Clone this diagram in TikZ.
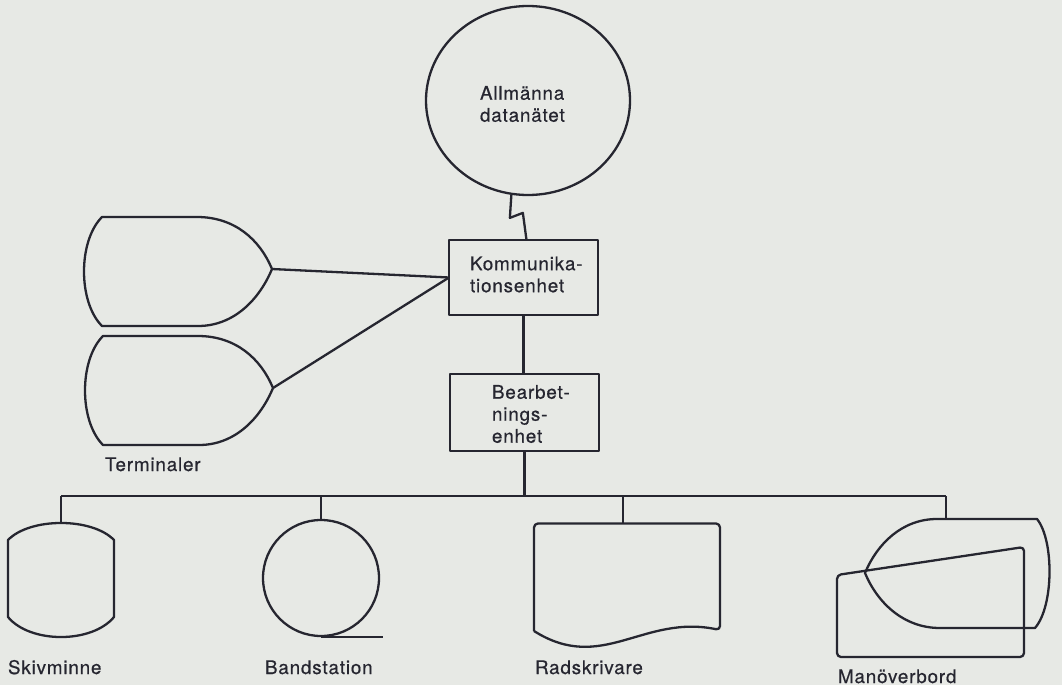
\documentclass[tikz,border=0pt]{standalone}
\usepackage{fontspec}
\setmainfont{TeX Gyre Heros}[LetterSpace=4.5,FakeBold=0.6]
\usetikzlibrary{shapes.geometric}
\definecolor{paper}{RGB}{231,233,229}
\definecolor{ink}{RGB}{38,38,48}
\newcommand{\lblfont}{\fontsize{18.8}{22}\selectfont}
\tikzset{
  line/.style={draw=ink, line width=2.3pt, line join=round},
  unit/.style={line, minimum width=149pt, inner sep=0pt, outer sep=0pt},
  lbl/.style={text=ink, font=\lblfont, inner sep=0pt, outer sep=0pt},
  terminal/.pic={
    \draw[line] (0,0) -- (95,0)
      .. controls (133,0) and (158,23) .. (170,52)
      .. controls (158,81) and (133,109) .. (96,109)
      -- (0,109)
      .. controls (-24,85) and (-24,24) .. cycle;
    \coordinate (-tip) at (170,52);
  }
}
\begin{document}
\begin{tikzpicture}[x=1pt,y=-1pt]
  % page
  \fill[paper] (0,0) rectangle (1062,685);
  \useasboundingbox (0,0) rectangle (1062,685);

  % public data network
  \node[line, ellipse, minimum width=204pt, minimum height=189pt, inner sep=0pt] (net) at (528,100.5) {};
  \node[lbl, anchor=west, align=left] (netlbl) at (480,104) {Allmänna\\datanätet};

  % communication unit and processing unit
  \node[unit, minimum height=75pt] (komm) at (523.5,277.5) {};
  \node[lbl, anchor=west, align=left] (kommlbl) at (470,274.5) {Kommunika-\\tionsenhet};
  \node[unit, minimum height=77pt] (bearb) at (524.5,412.5) {};
  \node[lbl, anchor=west, align=left] (bearblbl) at (492,414) {Bearbet-\\nings-\\enhet};

  % line link to the network
  \draw[line] (net.-100) -- ++(-1.5,23) -- ++(13,-5) -- ([xshift=3pt]komm.north);
  \draw[line] (komm.south) -- (komm.south |- bearb.north);

  % terminals
  \pic (t1) at (102,217) {terminal};
  \pic (t2) at (103,336) {terminal};
  \node[lbl, anchor=base west] (termlbl) at (105,471) {Terminaler};
  \draw[line] (t1-tip) -- (komm.west);
  \draw[line] (t2-tip) -- (komm.west);

  % peripheral bus
  \coordinate (busL) at (61,496);
  \coordinate (busR) at (946,496);
  \draw[line] (bearb.south) -- (bearb.south |- busL);
  \draw[line] (busL) -- (busR);

  % disk store
  \coordinate (disk) at (61,523);
  \draw[line] (8,540) .. controls (30,517.3) and (92,517.3) .. (114,540)
    -- (114,617) .. controls (92,643.7) and (30,643.7) .. (8,617) -- cycle;
  \draw[line] (busL) -- (disk);
  \node[lbl, anchor=base west] (disklbl) at (8,674) {Skivminne};

  % tape station
  \node[line, circle, minimum size=116pt, inner sep=0pt] (tape) at (321,578) {};
  \draw[line] (tape.south) -- ++(62,0);
  \draw[line] (busL -| tape.north) -- (tape.north);
  \node[lbl, anchor=base west] (tapelbl) at (265,674) {Bandstation};

  % line printer
  \coordinate (prn) at (623,523.5);
  \draw[line] (534,631) [rounded corners=4pt] -- (534,523.5) -- (720,523.5) -- (720,630) [sharp corners]
    .. controls (643,614) and (602,674) .. (534,631);
  \draw[line] (busL -| prn) -- (prn);
  \node[lbl, anchor=base west] (prnlbl) at (535,674) {Radskrivare};

  % operator console
  \coordinate (cons) at (946,519);
  \draw[line] (937,519) -- (1037,519)
    .. controls (1054,540) and (1054,606) .. (1035,628) -- (940,628)
    .. controls (903,628) and (877,602) .. (865,573)
    .. controls (877,544) and (902,519) .. (937,519);
  \draw[line, rounded corners=4pt] (837,657) -- (837,575) -- (1024,547) -- (1024,657) -- cycle;
  \draw[line] (busR) -- (cons);
  \node[lbl, anchor=base west] (conslbl) at (838,683) {Manöverbord};
\end{tikzpicture}
\end{document}
